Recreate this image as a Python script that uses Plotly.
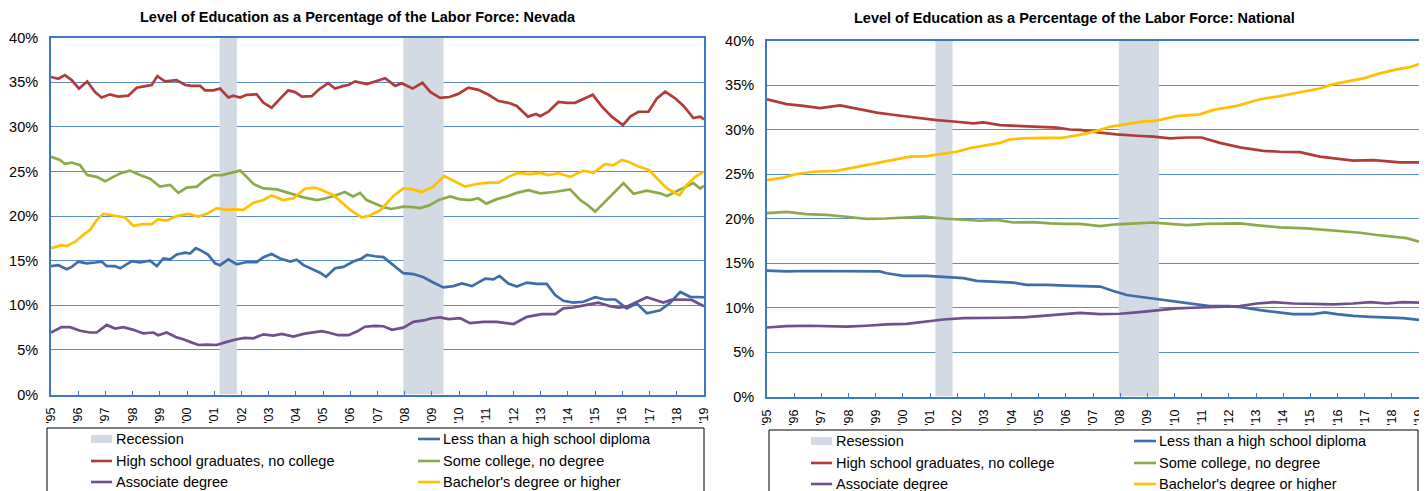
import plotly.graph_objects as go

# ---------------- data (year, percent of labor force) ----------------
YEARS = list(range(1995, 2020))
YEAR_LABELS = ["'" + str(y)[2:] for y in YEARS]
RECESSIONS = [(2001.2, 2001.83), (2007.95, 2009.43)]

NV_LESS_HS = [(1995.00,14.4),(1995.27,14.5),(1995.58,14.05),(1995.76,14.3),(1996.00,14.9),(1996.31,14.7),(1996.62,14.8),(1996.86,14.9),(1997.05,14.4),(1997.35,14.4),(1997.54,14.15),(1997.97,14.95),(1998.27,14.8),(1998.64,15.0),(1998.89,14.4),(1999.13,15.25),(1999.38,15.15),(1999.62,15.7),(1999.93,15.9),(2000.11,15.8),(2000.32,16.4),(2000.54,16.1),(2000.78,15.65),(2001.03,14.7),(2001.21,14.5),(2001.52,15.15),(2001.83,14.6),(2002.19,14.85),(2002.56,14.85),(2002.81,15.4),(2003.11,15.75),(2003.42,15.25),(2003.79,14.9),(2004.03,15.1),(2004.28,14.5),(2004.58,14.05),(2004.89,13.65),(2005.11,13.2),(2005.44,14.15),(2005.75,14.3),(2006.11,14.9),(2006.42,15.25),(2006.61,15.65),(2006.91,15.5),(2007.22,15.4),(2007.58,14.5),(2007.95,13.6),(2008.32,13.5),(2008.69,13.15),(2009.05,12.55),(2009.42,12.0),(2009.79,12.15),(2010.10,12.45),(2010.47,12.15),(2010.96,13.0),(2011.26,12.9),(2011.48,13.3),(2011.81,12.45),(2012.12,12.1),(2012.49,12.55),(2012.86,12.4),(2013.22,12.4),(2013.53,11.15),(2013.83,10.5),(2014.20,10.3),(2014.57,10.4),(2015.00,10.9),(2015.37,10.65),(2015.74,10.65),(2016.16,9.65),(2016.53,10.2),(2016.90,9.1),(2017.39,9.45),(2017.76,10.3),(2018.13,11.5),(2018.49,10.95),(2018.80,10.95),(2019.00,10.9)]
NV_HS_GRAD = [(1995.00,35.6),(1995.27,35.4),(1995.51,35.8),(1995.76,35.25),(1996.03,34.3),(1996.33,35.1),(1996.62,33.9),(1996.86,33.3),(1997.17,33.65),(1997.47,33.4),(1997.84,33.5),(1998.15,34.4),(1998.52,34.6),(1998.70,34.7),(1998.91,35.7),(1999.19,35.1),(1999.62,35.25),(1999.93,34.7),(2000.17,34.6),(2000.48,34.6),(2000.66,34.1),(2000.97,34.1),(2001.21,34.3),(2001.52,33.3),(2001.70,33.5),(2001.95,33.3),(2002.19,33.6),(2002.56,33.65),(2002.81,32.7),(2003.11,32.15),(2003.43,33.2),(2003.72,34.1),(2003.97,33.9),(2004.22,33.4),(2004.58,33.45),(2004.89,34.3),(2005.19,34.9),(2005.44,34.3),(2005.75,34.6),(2005.93,34.7),(2006.18,35.1),(2006.61,34.8),(2006.91,35.1),(2007.28,35.45),(2007.65,34.6),(2007.89,34.9),(2008.29,34.3),(2008.65,34.95),(2008.95,33.9),(2009.30,33.25),(2009.64,33.35),(2009.97,33.7),(2010.34,34.4),(2010.71,34.15),(2011.08,33.6),(2011.45,32.9),(2011.81,32.7),(2012.12,32.35),(2012.53,31.15),(2012.83,31.45),(2012.98,31.2),(2013.28,31.7),(2013.65,32.8),(2013.96,32.7),(2014.26,32.7),(2014.57,33.1),(2014.91,33.6),(2015.24,32.3),(2015.61,31.15),(2016.02,30.2),(2016.29,31.15),(2016.59,31.7),(2016.96,31.7),(2017.27,33.2),(2017.57,33.95),(2017.94,33.2),(2018.25,32.35),(2018.61,31.0),(2018.86,31.15),(2019.00,30.85)]
NV_SOME_COLLEGE = [(1995.00,26.65),(1995.33,26.3),(1995.51,25.85),(1995.76,26.0),(1996.07,25.7),(1996.33,24.6),(1996.68,24.4),(1996.99,23.9),(1997.29,24.4),(1997.60,24.85),(1997.90,25.1),(1998.27,24.6),(1998.64,24.2),(1999.00,23.3),(1999.38,23.5),(1999.68,22.6),(1999.99,23.2),(2000.36,23.3),(2000.66,24.05),(2000.97,24.6),(2001.28,24.6),(2001.58,24.85),(2001.95,25.1),(2002.19,24.4),(2002.44,23.6),(2002.81,23.1),(2003.30,23.0),(2003.79,22.55),(2004.28,22.1),(2004.77,21.8),(2005.10,22.0),(2005.45,22.3),(2005.80,22.7),(2006.10,22.2),(2006.36,22.6),(2006.60,21.8),(2006.90,21.4),(2007.22,21.0),(2007.50,20.8),(2007.95,21.05),(2008.30,21.0),(2008.57,20.9),(2008.90,21.2),(2009.25,21.8),(2009.67,22.2),(2010.00,21.9),(2010.40,21.8),(2010.70,22.0),(2011.00,21.4),(2011.38,21.9),(2011.75,22.2),(2012.12,22.6),(2012.55,22.9),(2012.98,22.55),(2013.47,22.7),(2014.08,23.0),(2014.45,21.8),(2014.70,21.3),(2015.00,20.5),(2015.43,21.8),(2016.04,23.7),(2016.41,22.5),(2016.90,22.85),(2017.39,22.55),(2017.64,22.25),(2018.13,23.0),(2018.61,23.7),(2018.86,23.1),(2019.00,23.4)]
NV_ASSOCIATE = [(1995.00,6.95),(1995.39,7.55),(1995.70,7.55),(1996.07,7.15),(1996.43,6.95),(1996.68,6.95),(1997.05,7.8),(1997.35,7.4),(1997.66,7.55),(1998.03,7.25),(1998.39,6.85),(1998.76,6.95),(1998.94,6.65),(1999.25,6.95),(1999.62,6.4),(1999.86,6.2),(2000.11,5.9),(2000.42,5.55),(2000.72,5.6),(2001.09,5.55),(2001.46,5.9),(2001.83,6.2),(2002.13,6.35),(2002.44,6.3),(2002.81,6.75),(2003.17,6.6),(2003.48,6.8),(2003.91,6.5),(2004.28,6.8),(2004.58,6.95),(2004.95,7.1),(2005.19,6.95),(2005.56,6.65),(2005.93,6.65),(2006.24,7.05),(2006.54,7.6),(2006.91,7.7),(2007.22,7.65),(2007.53,7.25),(2007.95,7.5),(2008.32,8.15),(2008.69,8.3),(2009.00,8.55),(2009.30,8.65),(2009.61,8.45),(2010.04,8.55),(2010.40,8.0),(2010.89,8.15),(2011.38,8.15),(2012.00,7.9),(2012.49,8.7),(2013.04,9.0),(2013.53,9.0),(2013.83,9.65),(2014.20,9.75),(2014.69,10.05),(2015.12,10.3),(2015.55,9.9),(2015.86,9.75),(2016.16,9.85),(2016.53,10.4),(2016.90,10.9),(2017.21,10.6),(2017.51,10.3),(2017.82,10.65),(2018.25,10.65),(2018.55,10.6),(2018.80,10.2),(2019.00,9.9)]
NV_BACHELORS = [(1995.00,16.4),(1995.39,16.75),(1995.58,16.65),(1995.88,17.1),(1996.19,17.9),(1996.43,18.45),(1996.68,19.55),(1996.92,20.25),(1997.23,20.1),(1997.47,20.0),(1997.72,19.85),(1998.03,18.9),(1998.39,19.1),(1998.70,19.1),(1998.94,19.65),(1999.25,19.5),(1999.62,20.0),(2000.05,20.25),(2000.42,19.95),(2000.72,20.25),(2001.09,20.9),(2001.46,20.7),(2001.76,20.75),(2002.07,20.7),(2002.44,21.5),(2002.81,21.8),(2003.10,22.3),(2003.54,21.8),(2003.91,22.0),(2004.34,23.1),(2004.71,23.2),(2005.01,22.85),(2005.38,22.35),(2005.70,21.5),(2006.00,20.7),(2006.42,19.85),(2006.73,20.1),(2007.10,20.65),(2007.34,21.45),(2007.60,22.3),(2007.95,23.1),(2008.30,23.0),(2008.63,22.7),(2009.05,23.3),(2009.45,24.5),(2009.85,23.85),(2010.22,23.3),(2010.65,23.6),(2011.08,23.75),(2011.45,23.75),(2011.81,24.4),(2012.18,24.85),(2012.61,24.7),(2012.98,24.85),(2013.28,24.6),(2013.65,24.8),(2014.08,24.4),(2014.57,25.1),(2014.94,24.85),(2015.37,25.85),(2015.67,25.7),(2015.98,26.3),(2016.22,26.1),(2016.59,25.55),(2016.96,25.2),(2017.33,24.05),(2017.64,23.1),(2017.88,22.7),(2018.10,22.35),(2018.37,23.5),(2018.68,24.4),(2019.00,25.0)]

US_LESS_HS = [(1995.00,14.15),(1995.72,14.05),(1996.45,14.1),(1997.19,14.1),(1998.05,14.1),(1998.66,14.1),(1999.16,14.05),(1999.40,13.85),(2000.02,13.55),(2000.88,13.55),(2001.49,13.4),(2002.23,13.3),(2002.72,13.0),(2003.45,12.9),(2004.07,12.8),(2004.56,12.55),(2005.29,12.55),(2006.03,12.45),(2006.52,12.4),(2007.26,12.35),(2007.75,11.85),(2008.24,11.4),(2008.85,11.15),(2009.46,10.9),(2010.08,10.65),(2010.69,10.4),(2011.30,10.15),(2012.04,10.15),(2012.53,10.0),(2013.15,9.7),(2013.76,9.45),(2014.37,9.25),(2015.10,9.25),(2015.54,9.45),(2015.97,9.25),(2016.58,9.05),(2017.21,8.95),(2017.81,8.9),(2018.42,8.8),(2019.00,8.6)]
US_HS_GRAD = [(1995.00,33.4),(1995.72,32.85),(1996.34,32.65),(1996.95,32.4),(1997.69,32.7),(1998.30,32.3),(1999.04,31.9),(1999.77,31.6),(2000.51,31.3),(2001.25,31.05),(2001.86,30.9),(2002.60,30.7),(2002.97,30.8),(2003.58,30.5),(2004.19,30.4),(2004.80,30.3),(2005.17,30.2),(2005.66,30.2),(2006.15,30.0),(2006.52,29.95),(2007.26,29.65),(2007.87,29.45),(2008.61,29.3),(2009.22,29.2),(2009.83,29.0),(2010.45,29.1),(2011.00,29.1),(2011.67,28.5),(2012.41,28.0),(2013.27,27.6),(2013.88,27.5),(2014.62,27.45),(2015.35,26.95),(2015.97,26.7),(2016.58,26.5),(2017.32,26.55),(2017.81,26.45),(2018.30,26.3),(2019.00,26.3)]
US_SOME_COLLEGE = [(1995.00,20.6),(1995.72,20.75),(1996.45,20.5),(1997.19,20.4),(1997.93,20.2),(1998.66,19.95),(1999.40,20.0),(2000.14,20.15),(2000.75,20.2),(2001.49,20.0),(2002.23,19.9),(2002.84,19.75),(2003.45,19.85),(2004.07,19.55),(2004.80,19.6),(2005.42,19.45),(2006.03,19.4),(2006.52,19.4),(2007.26,19.15),(2007.87,19.35),(2008.61,19.45),(2009.16,19.55),(2009.83,19.4),(2010.45,19.25),(2011.18,19.4),(2011.91,19.4),(2012.41,19.45),(2013.15,19.2),(2013.88,19.0),(2014.87,18.9),(2015.60,18.7),(2016.22,18.6),(2016.83,18.4),(2017.45,18.15),(2018.06,17.95),(2018.55,17.8),(2019.00,17.4)]
US_ASSOCIATE = [(1995.00,7.75),(1995.72,7.9),(1996.58,7.95),(1997.32,7.9),(1997.93,7.85),(1998.66,7.95),(1999.40,8.1),(2000.14,8.15),(2000.75,8.4),(2001.49,8.65),(2002.23,8.8),(2003.08,8.8),(2003.70,8.85),(2004.43,8.9),(2005.17,9.1),(2006.03,9.35),(2006.52,9.4),(2007.26,9.25),(2007.99,9.3),(2008.61,9.45),(2009.34,9.7),(2010.08,9.9),(2010.94,10.0),(2011.67,10.1),(2012.41,10.15),(2013.03,10.45),(2013.64,10.6),(2014.37,10.45),(2015.10,10.4),(2015.85,10.35),(2016.58,10.45),(2017.21,10.6),(2017.81,10.45),(2018.42,10.6),(2019.00,10.55)]
US_BACHELORS = [(1995.00,24.3),(1995.60,24.6),(1996.09,25.0),(1996.70,25.25),(1997.56,25.35),(1998.05,25.65),(1998.54,25.9),(1999.04,26.2),(1999.65,26.65),(2000.26,26.95),(2000.88,27.0),(2001.37,27.25),(2001.98,27.5),(2002.47,27.9),(2003.08,28.2),(2003.58,28.5),(2003.94,28.9),(2004.43,29.0),(2005.17,29.05),(2005.85,29.05),(2006.52,29.4),(2007.14,29.85),(2007.62,30.3),(2008.24,30.6),(2008.73,30.85),(2009.34,31.0),(2010.08,31.5),(2010.94,31.7),(2011.43,32.2),(2012.29,32.65),(2013.15,33.4),(2013.88,33.75),(2014.87,34.35),(2015.35,34.6),(2015.85,35.1),(2016.46,35.45),(2016.95,35.75),(2017.56,36.3),(2018.18,36.75),(2018.67,37.0),(2019.00,37.35)]

SERIES_NAMES = ["Less than a high school diploma", "High school graduates, no college",
                "Some college, no degree", "Associate degree", "Bachelor's degree or higher"]
TITLES = ["Level of Education as a Percentage of the Labor Force: Nevada",
          "Level of Education as a Percentage of the Labor Force: National"]
RECESSION_LABELS = ["Recession", "Resession"]

# ---------------- styling ----------------
PAGE_W, PAGE_H = 1427, 491
OFF = 8  # default page margin around the plot div
W, H = PAGE_W - OFF, PAGE_H - OFF
FONT = "Liberation Sans, Arial, sans-serif"
COLORS = ["#3D6DAA", "#B03C3A", "#8CAA4A", "#6F4F8C", "#FFC000"]
REC_COLOR = "#D3DAE4"
GRID = "#5A8AC8"
AXIS = "#3C78C3"


def fx(p):
    return (p - OFF) / W


def fy(p):
    return 1 - (p - OFF) / H


panels = [
    dict(data=[NV_LESS_HS, NV_HS_GRAD, NV_SOME_COLLEGE, NV_ASSOCIATE, NV_BACHELORS],
         xd=(51, 704), yd=(394.5, 37.7), xa="x", ya="y", title_x=358, title_y=17,
         leg=dict(box=(47, 704, 428), c1=(91, 112, 114), c2=(418, 440, 441), rows=(439, 461, 482))),
    dict(data=[US_LESS_HS, US_HS_GRAD, US_SOME_COLLEGE, US_ASSOCIATE, US_BACHELORS],
         xd=(767, 1419), yd=(396.5, 40.5), xa="x2", ya="y2", title_x=1074, title_y=18,
         leg=dict(box=(769, 1418, 430), c1=(811, 832, 834), c2=(1134, 1156, 1157), rows=(441, 463, 484))),
]

fig = go.Figure()
shapes = []
annotations = []

for i, p in enumerate(panels):
    order = [1, 2, 4, 0, 3]
    for k in order:
        pts = p["data"][k]
        fig.add_trace(go.Scatter(
            x=[a for a, b in pts], y=[b for a, b in pts], mode="lines",
            line=dict(color=COLORS[k], width=2.7), name=SERIES_NAMES[k],
            xaxis=p["xa"], yaxis=p["ya"], showlegend=False, hoverinfo="skip"))
    for r0, r1 in RECESSIONS:
        shapes.append(dict(type="rect", xref=p["xa"], yref=p["ya"],
                           x0=r0, x1=r1, y0=0, y1=40, fillcolor=REC_COLOR,
                           line=dict(width=0), layer="between"))
    sfx = "" if i == 0 else "2"
    fig.update_layout(**{
        "xaxis" + sfx: dict(domain=[fx(p["xd"][0]), fx(p["xd"][1])], range=[1995, 2019],
                            tickmode="array", tickvals=YEARS, ticktext=YEAR_LABELS,
                            tickangle=-90, ticks="inside", ticklen=4, tickwidth=1,
                            tickcolor=AXIS, showline=True, linecolor=AXIS, linewidth=2,
                            mirror=True, showgrid=False, zeroline=False, automargin=False,
                            tickfont=dict(family=FONT, size=12.5, color="#000"),
                            ticklabelstandoff=6, anchor=p["ya"], fixedrange=True),
        "yaxis" + sfx: dict(domain=[fy(p["yd"][0]), fy(p["yd"][1])], range=[0, 40],
                            tickmode="linear", tick0=0, dtick=5, ticksuffix="%",
                            showgrid=True, gridcolor=GRID, gridwidth=1,
                            showline=True, linecolor=AXIS, linewidth=2, mirror=True,
                            zeroline=False, ticks="", automargin=False,
                            tickfont=dict(family=FONT, size=14.5, color="#000"),
                            ticklabelstandoff=8, anchor=p["xa"], fixedrange=True),
    })
    annotations.append(dict(text="<b>" + TITLES[i] + "</b>", xref="paper", yref="paper",
                            x=fx(p["title_x"]), y=fy(p["title_y"]), xanchor="center",
                            yanchor="middle", showarrow=False,
                            font=dict(family=FONT, size=14.5, color="#000")))
    # manual legend (box runs past the bottom edge as in the reference)
    lg = p["leg"]
    bx0, bx1, btop = lg["box"]
    shapes.append(dict(type="rect", xref="paper", yref="paper", x0=fx(bx0), x1=fx(bx1),
                       y0=-0.05, y1=fy(btop), line=dict(color="#000", width=1),
                       fillcolor="rgba(0,0,0,0)", layer="above"))
    entries = [(RECESSION_LABELS[i], None, 0, 0), (SERIES_NAMES[0], COLORS[0], 0, 1),
               (SERIES_NAMES[1], COLORS[1], 1, 0), (SERIES_NAMES[2], COLORS[2], 1, 1),
               (SERIES_NAMES[3], COLORS[3], 2, 0), (SERIES_NAMES[4], COLORS[4], 2, 1)]
    for label, col, row, c in entries:
        s0, s1, tx = lg["c1"] if c == 0 else lg["c2"]
        yc = lg["rows"][row]
        if col is None:
            shapes.append(dict(type="rect", xref="paper", yref="paper", x0=fx(s0), x1=fx(s1),
                               y0=fy(yc + 4), y1=fy(yc - 4), fillcolor=REC_COLOR,
                               line=dict(width=0), layer="above"))
        else:
            shapes.append(dict(type="line", xref="paper", yref="paper", x0=fx(s0), x1=fx(s1),
                               y0=fy(yc), y1=fy(yc), line=dict(color=col, width=2.6),
                               layer="above"))
        annotations.append(dict(text=label, xref="paper", yref="paper", x=fx(tx), y=fy(yc),
                                xanchor="left", yanchor="middle", showarrow=False,
                                font=dict(family=FONT, size=14.5, color="#000")))

fig.update_layout(width=W, height=H,
                  margin=dict(l=0, r=0, t=0, b=0, pad=0, autoexpand=False),
                  paper_bgcolor="white", plot_bgcolor="white", showlegend=False,
                  shapes=shapes, annotations=annotations)

fig.write_html("out.html")
